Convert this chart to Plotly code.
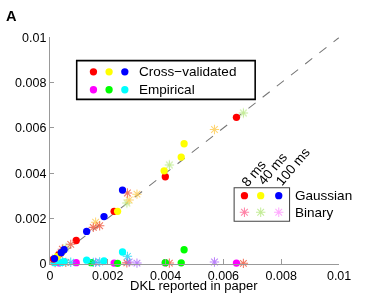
import plotly.graph_objects as go

# reference geometry (pixels of the 374x296 picture)
W, H = 374, 296
# the photographed viewport is ~4% wider than the picture; size the page to fill it
K = 1 / 0.96
PW, PH = round(W * K), round(H * K)
# small shift correcting the observed offset of the photograph (reference pixels)
DX, DY = -2.5, -5.0

# ---- data: cross-validated (along diagonal) ----
cvg8_x = [0.00645, 0.00399, 0.00222, 0.00091, 0.00031, 0.00012]
cvg8_y = [0.00647, 0.00384, 0.00231, 0.00102, 0.00041, 0.00020]
cvg40_x = [0.00464, 0.00454, 0.00395, 0.00234, 0.00045, 0.00025]
cvg40_y = [0.00530, 0.00471, 0.00410, 0.00231, 0.00055, 0.00030]
cvg100_x = [0.00251, 0.00187, 0.00127, 0.00049, 0.00039, 0.00016]
cvg100_y = [0.00325, 0.00208, 0.00142, 0.00061, 0.00048, 0.00022]

cvb8_x = [0.00669, 0.00413, 0.00266, 0.00055, 0.00018]
cvb8_y = [0.00666, 0.00436, 0.00268, 0.00070, 0.00025]
cvb40_x = [0.00569, 0.00301, 0.00274, 0.00158, 0.00035]
cvb40_y = [0.00593, 0.00307, 0.00281, 0.00183, 0.00042]
cvb100_x = [0.00268, 0.00172, 0.00150, 0.00072, 0.00043]
cvb100_y = [0.00312, 0.00167, 0.00160, 0.00085, 0.00063]

# ---- data: empirical (near zero) ----
emg8_x = [0.00645, 0.00399, 0.00222, 0.00091, 0.00031]
emg8_y = [0.00002, 0.00003, 0.00002, 0.00004, 0.00003]
emg40_x = [0.00464, 0.00454, 0.00399, 0.00234, 0.00143, 0.00020]
emg40_y = [0.00061, 0.00003, 0.00004, 0.00001, 0.00004, 0.00010]
emg100_x = [0.00251, 0.00187, 0.00127, 0.00049, 0.00039, 0.00016]
emg100_y = [0.00051, 0.00012, 0.00015, 0.00008, 0.00005, 0.00004]

emb8_x = [0.00669, 0.00413, 0.00266, 0.00055, 0.00018]
emb8_y = [0.00001, 0.00002, 0.00003, 0.00005, 0.00004]
emb40_x = [0.00569, 0.00301, 0.00274, 0.00158, 0.00035]
emb40_y = [0.00007, 0.00002, 0.00007, 0.00005, 0.00006]
emb100_x = [0.00268, 0.00172, 0.00150, 0.00072, 0.00043]
emb100_y = [0.00032, 0.00007, 0.00005, 0.00006, 0.00008]

diag_x = [0, 0.01]
diag_y = [0, 0.01]

tick_vals = [0, 0.002, 0.004, 0.006, 0.008, 0.01]
tick_text = ["0", "0.002", "0.004", "0.006", "0.008", "0.01"]

legend1_labels = ["Cross\u2212validated", "Empirical"]
legend2_labels = ["Gaussian", "Binary"]
timescale_labels = ["8 ms", "40 ms", "100 ms"]

cv_colors = ["#ff0000", "#ffff00", "#0000ff"]
em_colors = ["#ff00ff", "#00ff00", "#00ffff"]

FONT = "Liberation Sans, Arial, sans-serif"

def px(v):
    return v * K

# plot-area pixel geometry (reference picture coordinates)
L, R, T, B = 49.3 + DX, 337.7 + DX, 35.7 + DY, 263.3 + DY

CIRC = px(7)
STAR = px(7.5)
SOP = 0.8

fig = go.Figure()

fig.add_trace(go.Scatter(x=diag_x, y=diag_y, mode="lines",
                         line=dict(color="#777777", width=px(1), dash="dash"),
                         showlegend=False, hoverinfo="skip"))

def circ(x, y, c):
    fig.add_trace(go.Scatter(x=x, y=y, mode="markers", cliponaxis=False,
                             marker=dict(symbol="circle", size=CIRC, color=c, line=dict(width=0)),
                             showlegend=False))

def star(x, y, c):
    fig.add_trace(go.Scatter(x=x, y=y, mode="markers", opacity=SOP, cliponaxis=False,
                             marker=dict(symbol="asterisk-open", size=STAR,
                                         line=dict(color=c, width=px(1))),
                             showlegend=False))

for (gx, gy), (bx, by), c in zip([(emg8_x, emg8_y), (emg40_x, emg40_y), (emg100_x, emg100_y)],
                                 [(emb8_x, emb8_y), (emb40_x, emb40_y), (emb100_x, emb100_y)],
                                 em_colors):
    star(bx, by, c)
    circ(gx, gy, c)

for (gx, gy), (bx, by), c in zip([(cvg8_x, cvg8_y), (cvg40_x, cvg40_y), (cvg100_x, cvg100_y)],
                                 [(cvb8_x, cvb8_y), (cvb40_x, cvb40_y), (cvb100_x, cvb100_y)],
                                 cv_colors):
    star(bx, by, c)
    circ(gx, gy, c)

# ---- legend overlay axis in reference-pixel coordinates ----
leg1_cols = [92.7, 108.3, 124.0]
leg1_rows = [70.3, 88.3]
for row, cols in zip(leg1_rows, [cv_colors, em_colors]):
    fig.add_trace(go.Scatter(x=leg1_cols, y=[row] * 3, xaxis="x2", yaxis="y2", mode="markers",
                             marker=dict(symbol="circle", size=CIRC, color=cols),
                             showlegend=False, hoverinfo="skip"))

leg2_cols = [243.3, 259.5, 277.5]
leg2_rows = [195.0, 211.7]
fig.add_trace(go.Scatter(x=leg2_cols, y=[leg2_rows[0]] * 3, xaxis="x2", yaxis="y2", mode="markers",
                         marker=dict(symbol="circle", size=CIRC, color=cv_colors),
                         showlegend=False, hoverinfo="skip"))
for xc, c in zip(leg2_cols, cv_colors):
    fig.add_trace(go.Scatter(x=[xc], y=[leg2_rows[1]], xaxis="x2", yaxis="y2", mode="markers",
                             opacity=SOP,
                             marker=dict(symbol="asterisk-open", size=STAR, line=dict(color=c, width=px(1))),
                             showlegend=False, hoverinfo="skip"))

shapes = [
    dict(type="rect", xref="x2", yref="y2", x0=76, y0=59, x1=254, y1=98,
         line=dict(color="black", width=px(1.5))),
    dict(type="rect", xref="x2", yref="y2", x0=233, y0=187, x1=288.3, y1=220.7,
         line=dict(color="#444444", width=px(1))),
]

def f(size):
    return dict(size=px(size), color="black", family=FONT)

annotations = []
for lab, row in zip(legend1_labels, leg1_rows):
    annotations.append(dict(x=136, y=row, xref="x2", yref="y2", text=lab, showarrow=False,
                            xanchor="left", yanchor="middle", font=f(13)))
for lab, row in zip(legend2_labels, leg2_rows):
    annotations.append(dict(x=292, y=row, xref="x2", yref="y2", text=lab, showarrow=False,
                            xanchor="left", yanchor="middle", font=f(13)))
for lab, (cx, cy) in zip(timescale_labels, [(252.5, 172.5), (271.5, 167.5), (292.0, 166.0)]):
    annotations.append(dict(x=cx, y=cy, xref="x2", yref="y2", text=lab, showarrow=False,
                            textangle=-50, xanchor="center", yanchor="middle", font=f(13)))
annotations.append(dict(x=11, y=14, xref="x2", yref="y2", text="<b>A</b>", showarrow=False,
                        xanchor="center", yanchor="middle", font=f(14)))
annotations.append(dict(x=193, y=285, xref="x2", yref="y2", text="DKL reported in paper", showarrow=False,
                        xanchor="center", yanchor="middle", font=f(12.5)))

axis_common = dict(range=[0, 0.01], tickvals=tick_vals, ticktext=tick_text, showgrid=False,
                   zeroline=False, showline=True, linecolor="#999999", linewidth=px(1),
                   ticks="inside", ticklen=px(4), tickcolor="#999999", tickwidth=px(1),
                   tickfont=f(12))

fig.update_layout(
    width=PW, height=PH, autosize=False, margin=dict(l=0, r=0, t=0, b=0, pad=0),
    paper_bgcolor="white", plot_bgcolor="rgba(0,0,0,0)",
    font=dict(family=FONT),
    xaxis=dict(domain=[L / W, R / W], anchor="y", **axis_common),
    yaxis=dict(domain=[1 - B / H, 1 - T / H], anchor="x", **axis_common),
    xaxis2=dict(domain=[0, 1], range=[-DX, W - DX], visible=False, anchor="y2"),
    yaxis2=dict(domain=[0, 1], range=[H - DY, -DY], visible=False, anchor="x2"),
    shapes=shapes, annotations=annotations,
)

fig.write_html("out.html", config={"displayModeBar": False, "responsive": False},
               post_script="document.body.style.margin='0';document.body.style.overflow='hidden';")
